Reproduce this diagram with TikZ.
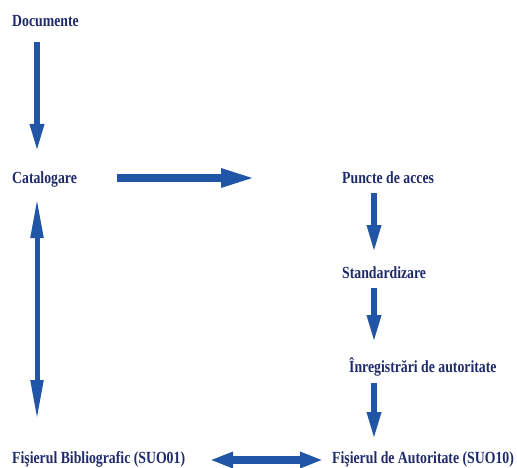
\documentclass[tikz,border=0pt]{standalone}
\usepackage{fontspec}
\usepackage{xcolor}
\usepackage{tikz}
\usetikzlibrary{arrows.meta}
\newfontfamily\lblfont{Liberation Serif}[FakeStretch=0.81]
\definecolor{navytext}{RGB}{31,42,107}
\definecolor{arrowblue}{RGB}{33,85,165}

\begin{document}
\begin{tikzpicture}[x=1pt,y=-1pt,
    lbl/.style={anchor=base west, inner sep=0pt, text=navytext, font=\lblfont\bfseries\fontsize{17}{20}\selectfont},
    arr/.style={draw=arrowblue, line width=6pt, -{Triangle[length=28pt,width=13pt]}},
    harr/.style={draw=arrowblue, line width=8pt, -{Triangle[length=35pt,width=17pt]}},
    dharr/.style={draw=arrowblue, line width=8pt, {Triangle[length=23pt,width=15pt]}-{Triangle[length=23pt,width=15pt]}},
    varr/.style={draw=arrowblue, line width=5pt, {Triangle[length=40pt,width=12pt]}-{Triangle[length=40pt,width=12pt]}}]
                \useasboundingbox (0,0) rectangle (517,468);

                \node[lbl] (doc) at (12,27) {Documente};
                \node[lbl] (cat) at (12,184) {Catalogare};
                \node[lbl] (pa) at (342,184) {Puncte de acces};
                \node[lbl] (std) at (342,278) {Standardizare};
                \node[lbl] (inr) at (349,372) {Înregistrări de autoritate};
                \node[lbl] (fb) at (12,463) {Fişierul Bibliografic (SUO01)};
                \node[lbl] (fa) at (332,463) {Fişierul de Autoritate (SUO10)};

                \draw[arr] ([shift={(25,15)}]doc.base west) -- ([shift={(25,-32)}]cat.base west);
                \draw[harr] ([shift={(105,-6)}]cat.base west) -- ([shift={(-86,-6)}]pa.base west);
                \draw[arr] ([shift={(32,9)}]pa.base west) -- ([shift={(32,-25)}]std.base west);
                \draw[arr] ([shift={(32,10)}]std.base west) -- ([shift={(25,-29)}]inr.base west);
                \draw[arr] ([shift={(25,11)}]inr.base west) -- ([shift={(42,-23)}]fa.base west);
                \draw[dharr] ([shift={(198,-3)}]fb.base west) -- ([shift={(-9,-3)}]fa.base west); % both ways
                \draw[varr] ([shift={(25,14)}]cat.base west) -- ([shift={(25,-43)}]fb.base west);
             \end{tikzpicture}
\end{document}
